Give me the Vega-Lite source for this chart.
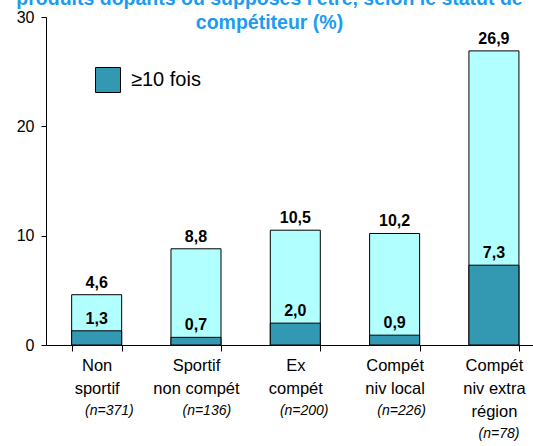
{
  "$schema": "https://vega.github.io/schema/vega-lite/v6.json",
  "autosize": {"type": "none"},
  "padding": {"left": 46, "top": 17, "right": 0, "bottom": 101},
  "width": 487,
  "height": 328,
  "background": "white",
  "config": {
    "view": {"stroke": null},
    "font": "Liberation Sans",
    "locale": {"number": {"decimal": ",", "thousands": ".", "grouping": [3], "currency": ["", " €"]}}
  },
  "title": {
    "text": ["produits dopants ou supposés l'être, selon le statut de", "compétiteur (%)"],
    "font": "Liberation Sans",
    "fontSize": 19.5,
    "fontWeight": "bold",
    "color": "#1A9CF0",
    "frame": "group",
    "anchor": "middle",
    "dx": -20,
    "offset": -24,
    "lineHeight": 24
  },
  "data": {
    "values": [
      {"cat": "Non|sportif", "n": "(n=371)", "total": 4.6, "freq10": 1.3},
      {"cat": "Sportif|non compét", "n": "(n=136)", "total": 8.8, "freq10": 0.7},
      {"cat": "Ex|compét", "n": "(n=200)", "total": 10.5, "freq10": 2.0},
      {"cat": "Compét|niv local", "n": "(n=226)", "total": 10.2, "freq10": 0.9},
      {"cat": "Compét|niv extra|région", "n": " |(n=78)", "total": 26.9, "freq10": 7.3}
    ]
  },
  "layer": [
    {
      "encoding": {
        "x": {
          "field": "cat", "type": "nominal", "sort": null,
          "scale": {"paddingInner": 0.4965, "paddingOuter": 0.2, "align": 0.646},
          "axis": {
            "title": null, "labelAngle": 0, "labelExpr": "split(datum.label, '|')",
            "labelFont": "Liberation Sans", "labelFontSize": 16.5, "labelLineHeight": 23,
            "labelColor": "black", "labelPadding": 6, "labelBaseline": "top",
            "tickBand": "extent", "tickSize": 6, "tickColor": "black", "domainColor": "black",
            "labelLimit": 0, "grid": false
          }
        },
        "y": {
          "type": "quantitative",
          "scale": {"domain": [0, 30], "nice": false},
          "axis": {
            "title": null, "values": [0, 10, 20, 30], "grid": false,
            "labelFont": "Liberation Sans", "labelFontSize": 16, "labelColor": "black",
            "labelPadding": 7, "tickSize": 5, "tickColor": "black", "domainColor": "black"
          }
        }
      },
      "layer": [
        {
          "mark": {"type": "bar", "fill": "#B2FFFF", "stroke": "black", "strokeWidth": 1},
          "encoding": {"y": {"field": "total", "type": "quantitative"}}
        },
        {
          "mark": {"type": "bar", "stroke": "black", "strokeWidth": 1, "opacity": 1},
          "encoding": {
            "y": {"field": "freq10", "type": "quantitative"},
            "color": {
              "datum": "≥10 fois",
              "scale": {"range": ["#3399B3"]},
              "legend": {
                "title": null, "orient": "none", "legendX": 49, "legendY": 50,
                "symbolType": "square", "symbolSize": 625, "symbolStrokeColor": "black",
                "symbolStrokeWidth": 1, "symbolOpacity": 1, "labelFont": "Liberation Sans",
                "labelFontSize": 20, "labelColor": "black", "labelOffset": 10, "padding": 0
              }
            }
          }
        },
        {
          "mark": {"type": "text", "font": "Liberation Sans", "fontSize": 16, "fontWeight": "bold", "color": "black", "baseline": "alphabetic", "dy": -7},
          "encoding": {
            "y": {"field": "total", "type": "quantitative"},
            "text": {"field": "total", "type": "quantitative", "format": ".1f"}
          }
        },
        {
          "mark": {"type": "text", "font": "Liberation Sans", "fontSize": 16, "fontWeight": "bold", "color": "black", "baseline": "alphabetic", "dy": -7},
          "encoding": {
            "y": {"field": "freq10", "type": "quantitative"},
            "text": {"field": "freq10", "type": "quantitative", "format": ".1f"}
          }
        }
      ]
    },
    {
      "mark": {"type": "text", "text": "", "opacity": 0},
      "encoding": {
        "x": {
          "field": "n", "type": "nominal", "sort": null,
          "scale": {"paddingInner": 0.4965, "paddingOuter": 0.2, "align": 0.646},
          "axis": {
            "orient": "bottom", "title": null, "labelAngle": 0, "labelExpr": "split(datum.label, '|')",
            "labelFont": "Liberation Sans", "labelFontSize": 14, "labelFontStyle": "italic",
            "labelLineHeight": 23, "labelColor": "black", "labelPadding": 58, "labelBaseline": "top",
            "ticks": false, "tickSize": 0, "domain": false, "grid": false, "labelLimit": 0
          }
        },
        "y": {"field": "total", "type": "quantitative"}
      }
    }
  ],
  "resolve": {"scale": {"x": "independent"}, "axis": {"x": "independent"}}
}
